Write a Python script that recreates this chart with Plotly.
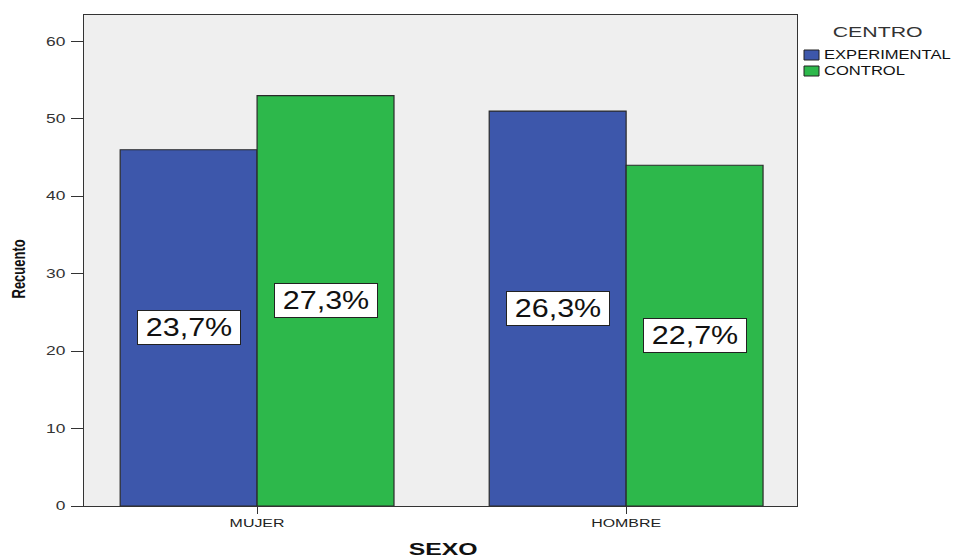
import json
import plotly.graph_objects as go

sexo = ["MUJER", "HOMBRE"]
grupos = ["EXPERIMENTAL", "CONTROL"]
recuento = {
    "EXPERIMENTAL": [46, 51],
    "CONTROL": [53, 44],
}
porcentajes = {
    "EXPERIMENTAL": ["23,7%", "26,3%"],
    "CONTROL": ["27,3%", "22,7%"],
}
colores = {"EXPERIMENTAL": "#3D57AB", "CONTROL": "#2DB84B"}
y_ticks = [0, 10, 20, 30, 40, 50, 60]

FONT = "Liberation Sans, Arial, sans-serif"
BARGAP = 0.258
# plot area in pixels (used to place the hand-drawn legend)
L, R, T, B = 84, 797, 15, 506
W, H = 955, 557


def px_x(px):
    return (px - L) / (R - L)


def px_y(py):
    return (B - py) / (B - T)


fig = go.Figure()
for g in grupos:
    fig.add_trace(go.Bar(
        x=sexo, y=recuento[g], name=g, showlegend=False,
        marker=dict(color=colores[g], line=dict(color="#2a2a2a", width=1.2)),
    ))

annotations = []
stretch = []  # [sx, sy, pivot] applied to each annotation's text after render

# percentage boxes centred on each bar, halfway up
bar_w = (1 - BARGAP) / len(grupos)
for gi, g in enumerate(grupos):
    offset = (gi - (len(grupos) - 1) / 2) * bar_w
    for ci, _ in enumerate(sexo):
        annotations.append(dict(
            x=ci + offset, y=recuento[g][ci] / 2, xref="x", yref="y",
            text=porcentajes[g][ci], showarrow=False, xanchor="center",
            font=dict(family=FONT, size=25, color="#111111"),
            bgcolor="white", bordercolor="#222222", borderwidth=1,
            width=100, height=31, borderpad=1,
        ))
        stretch.append([1.22, 1, "center"])

# axis titles
annotations.append(dict(
    x=px_x(18), y=0.5, yshift=-9, xref="paper", yref="paper", text="<b>Recuento</b>",
    textangle=-90, showarrow=False, xanchor="center", yanchor="middle",
    font=dict(family=FONT, size=13, color="#111"),
))
stretch.append([1, 1.45, "center"])
annotations.append(dict(
    x=px_x(443), y=px_y(549), xref="paper", yref="paper", text="<b>SEXO</b>",
    showarrow=False, xanchor="center", yanchor="middle",
    font=dict(family=FONT, size=16, color="#111"),
))
stretch.append([1.55, 1, "center"])

# legend
annotations.append(dict(
    x=px_x(877), y=px_y(32), xref="paper", yref="paper", text="CENTRO",
    showarrow=False, xanchor="center", yanchor="middle",
    font=dict(family=FONT, size=15, color="#333"),
))
stretch.append([1.42, 1, "center"])
shapes = []
for i, g in enumerate(grupos):
    cy = 55 + 16 * i
    shapes.append(dict(
        type="rect", xref="paper", yref="paper",
        x0=px_x(804), x1=px_x(819), y0=px_y(cy + 5), y1=px_y(cy - 5),
        fillcolor=colores[g], line=dict(color="#222", width=1),
    ))
    annotations.append(dict(
        x=px_x(822), y=px_y(cy), xref="paper", yref="paper", text=g,
        showarrow=False, xanchor="left", yanchor="middle",
        font=dict(family=FONT, size=12, color="#111"),
    ))
    stretch.append([1.38, 1, "left"])

fig.update_layout(
    width=W, height=H,
    margin=dict(l=L, r=W - R, t=T, b=H - B),
    paper_bgcolor="white", plot_bgcolor="#EFEFEF",
    barmode="group", bargap=BARGAP, bargroupgap=0,
    font=dict(family=FONT, size=11, color="#222"),
    annotations=annotations, shapes=shapes,
    showlegend=False,
    xaxis=dict(
        range=[-0.469, 1.463], showgrid=False, zeroline=False,
        showline=True, linecolor="#333", linewidth=1, mirror=True,
        ticks="outside", ticklen=7, tickcolor="#333",
        tickfont=dict(family=FONT, size=11, color="#222"),
    ),
    yaxis=dict(
        range=[0, 63.4], showgrid=False, zeroline=False,
        showline=True, linecolor="#333", linewidth=1, mirror=True,
        ticks="outside", ticklen=12, tickcolor="#333",
        tickvals=y_ticks, ticklabelstandoff=3,
        tickfont=dict(family=FONT, size=12, color="#333"),
    ),
)

# widen the text horizontally, pivoting on each label's anchor
post = """
var gd = document.getElementById('{plot_id}');
var scales = %s;
function widen(t, sx, sy, pivot) {
  var b = t.getBBox();
  var a = pivot || t.getAttribute('text-anchor') || 'start';
  var px = a === 'end' ? b.x + b.width : ((a === 'middle' || a === 'center') ? b.x + b.width / 2 : b.x);
  var py = b.y + b.height / 2;
  var tr = t.getAttribute('transform') || '';
  t.setAttribute('transform', tr + ' translate(' + px + ',' + py + ') scale(' + sx + ',' + sy + ') translate(' + (-px) + ',' + (-py) + ')');
}
gd.querySelectorAll('.xtick text, .ytick text').forEach(function (t) { widen(t, 1.45, 1); });
gd.querySelectorAll('g.annotation').forEach(function (g) {
  var i = +g.getAttribute('data-index');
  var t = g.querySelector('text.annotation-text');
  var s = scales[i];
  if (t && s) widen(t, s[0], s[1], s[2]);
});
""" % json.dumps(stretch)

fig.write_html("out.html", post_script=post)
